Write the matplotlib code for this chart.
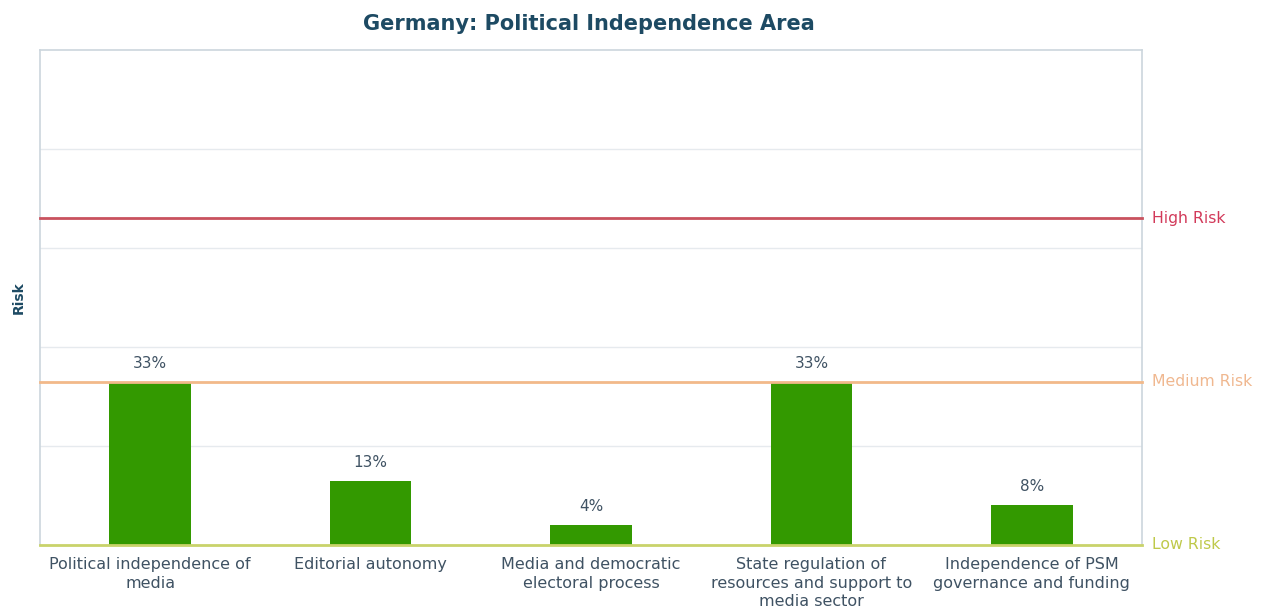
import numpy as np
import matplotlib.pyplot as plt

plt.rcParams['font.family'] = ['DejaVu Sans']

categorias = ["Political independence of\nmedia", "Editorial autonomy",
              "Media and democratic\nelectoral process",
              "State regulation of\nresources and support to\nmedia sector",
              "Independence of PSM\ngovernance and funding"]
valores = [33, 13, 4, 33, 8]
niveles = [0, 33, 66]
nombres_nivel = ["Low Risk", "Medium Risk", "High Risk"]
colores_linea = ["#c9d36a", "#f2b98a", "#c9525e"]
colores_texto = ["#bfc94a", "#f0b890", "#d23a5a"]

azul = "#1d4a63"
gris_texto = "#3f5263"

fig = plt.figure(figsize=(12.62, 6.10), dpi=100)
ax = fig.add_axes([0.0317, 0.1066, 0.8732, 0.8114])

x = np.arange(len(categorias))
barras = ax.bar(x, valores, width=0.37, color="#339900", zorder=3)

for xi, v in zip(x, valores):
	ax.annotate(f"{v}%", (xi, v), xytext=(0, 8), textcoords="offset points",
		ha="center", va="bottom", fontsize=11, color=gris_texto)

ax.set_xlim(-0.5, len(categorias) - 0.5)
ax.set_ylim(0, 100)

for y in [20, 40, 60, 80]:
	ax.axhline(y, color="#e6eaee", lw=1, zorder=1)

for nivel, nombre, cl, ct in zip(niveles, nombres_nivel, colores_linea, colores_texto):
	ax.axhline(nivel, color=cl, lw=2, zorder=4, clip_on=False)
	ax.text(1.009, nivel, nombre, transform=ax.get_yaxis_transform(),
		ha="left", va="center", fontsize=11.3, color=ct)

ax.set_yticks([])
ax.set_xticks(x)
ax.set_xticklabels(categorias, fontsize=11.5, color=gris_texto, linespacing=1.32)
ax.tick_params(axis="x", length=0, pad=8.5)

for lado in ["left", "top", "right"]:
	ax.spines[lado].set_color("#ccd6dd")
	ax.spines[lado].set_linewidth(1.2)
ax.spines["bottom"].set_visible(False)

ax.set_ylabel("Risk", fontsize=10, fontweight="bold", color=azul, labelpad=10)
fig.text(0.467, 0.96, "Germany: Political Independence Area", ha="center", va="center",
	fontsize=15, fontweight="bold", color=azul)

fig.savefig("out.png", dpi=100)
